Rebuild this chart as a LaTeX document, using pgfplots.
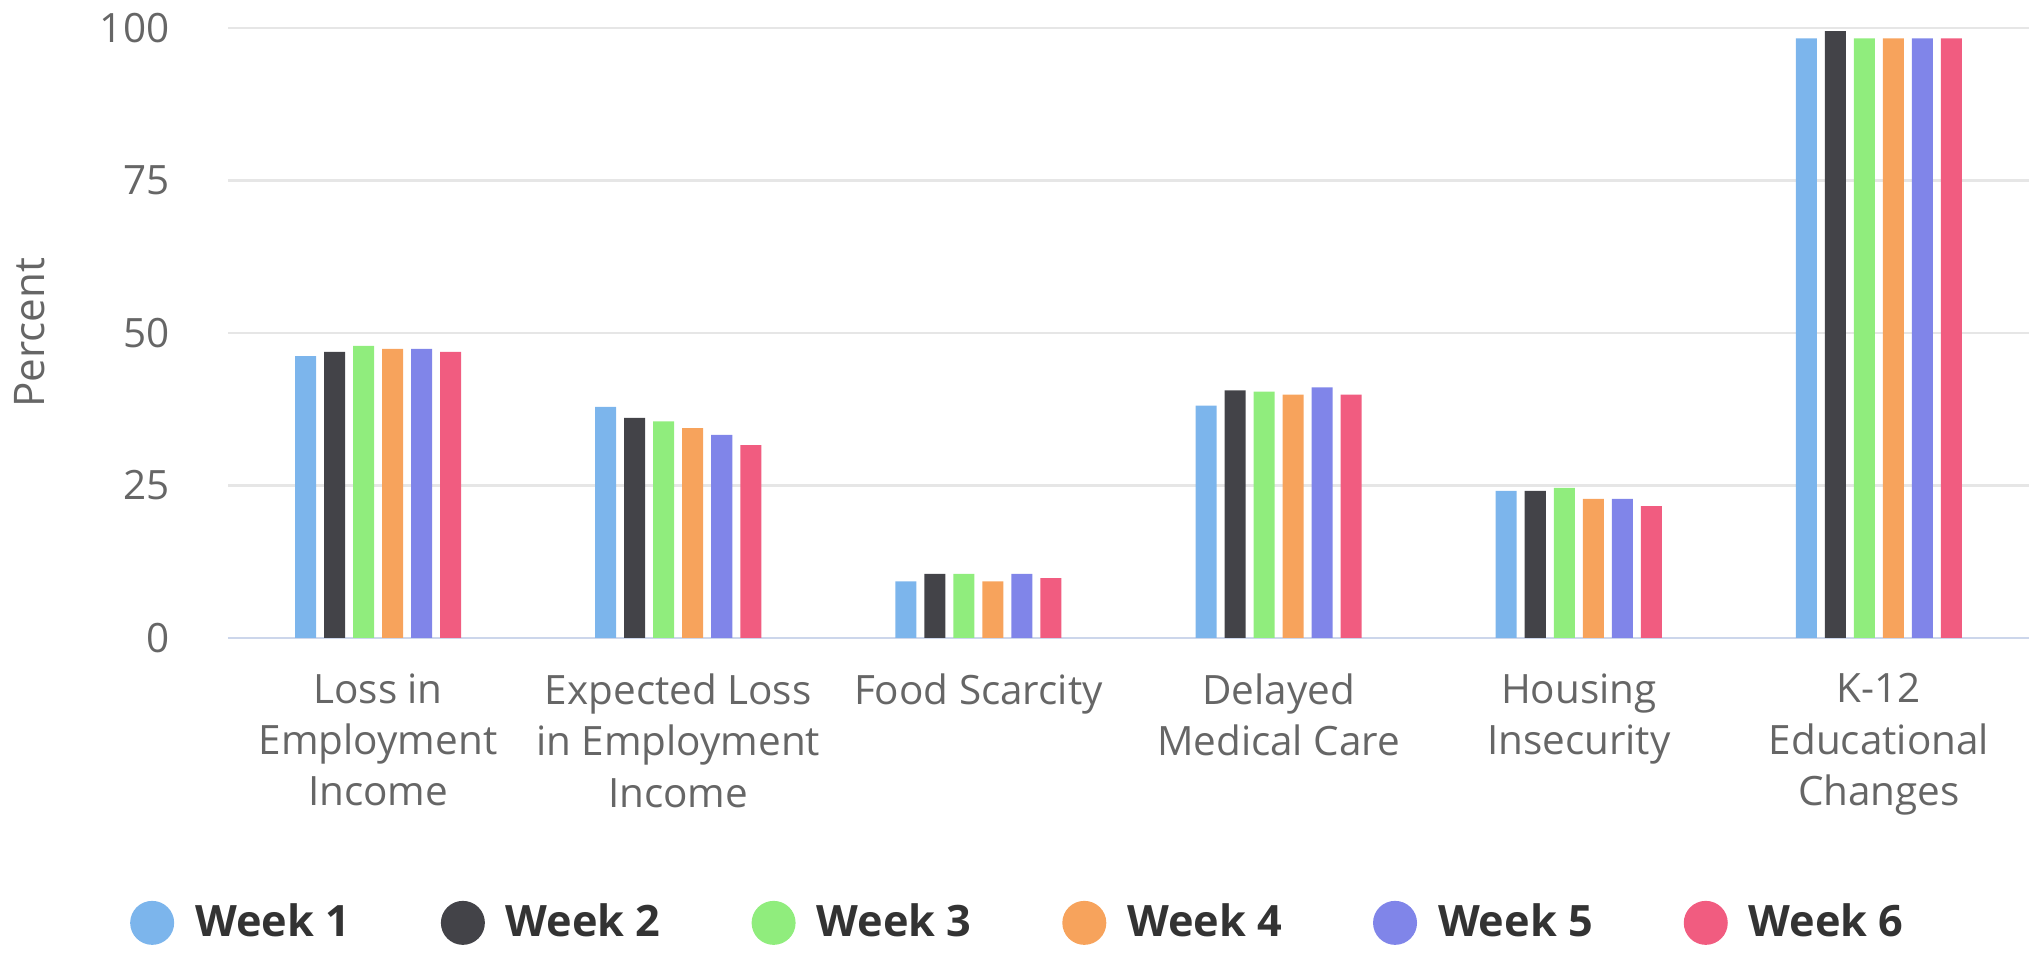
\documentclass[border=0pt]{standalone}
\usepackage{fontspec}
\setmainfont{Open Sans}
\usepackage{pgfplots}
\pgfplotsset{compat=1.18}
\definecolor{c1}{HTML}{7CB5EC}
\definecolor{c2}{HTML}{434348}
\definecolor{c3}{HTML}{90ED7D}
\definecolor{c4}{HTML}{F7A35C}
\definecolor{c5}{HTML}{8085E9}
\definecolor{c6}{HTML}{F15C80}
\definecolor{gridgray}{HTML}{E6E6E6}
\definecolor{axisblue}{HTML}{CCD6EB}
\definecolor{tickgray}{HTML}{666666}
\definecolor{textdark}{HTML}{333333}
\begin{document}
\begin{tikzpicture}
\path[use as bounding box] (-2.28cm,-3.15cm) rectangle (18.01cm,6.38cm);
\begin{axis}[
  scale only axis,
  width=18.01cm, height=6.10cm,
  ybar=0.08cm,
  bar width=0.21cm,
  legend image code/.code={\fill[#1] (0.22cm,0cm) circle (0.22cm);},
  xmin=-0.5, xmax=5.5,
  ymin=0, ymax=100,
  xtick=data,
  xticklabels={{Loss in\\Employment\\Income},{Expected Loss\\in Employment\\Income},{Food Scarcity},{Delayed\\Medical Care},{Housing\\Insecurity},{K-12\\Educational\\Changes}},
  ytick={25,50,75,100},
  extra y ticks={0},
  extra y tick labels={0},
  extra y tick style={grid style={color=axisblue, line width=0.8pt}},
  ymajorgrids,
  grid style={color=gridgray, line width=0.6pt},
  major tick length=0pt,
  axis line style={draw=none},
  /pgf/number format/assume math mode=true,
  xticklabel style={align=center, font=\fontsize{11.5}{14.6}\selectfont, text=tickgray, inner sep=0pt, yshift=-0.35cm},
  yticklabel style={font=\fontsize{11.5}{14.5}\selectfont, text=tickgray, inner sep=0pt, xshift=-0.58cm},
  ylabel={Percent},
  ylabel style={at={(axis description cs:-0.1099,0.5)}, anchor=center, font=\fontsize{12}{14}\selectfont, text=tickgray},
  legend columns=6,
  legend style={at={(0.438,-0.467)}, anchor=center, draw=none, fill=none,
    font=\bfseries\fontsize{12.3}{14}\selectfont, text=textdark,
    nodes={inner xsep=0pt},
    /tikz/every odd column/.style={column sep=0.21cm},
    /tikz/every even column/.style={column sep=0.91cm}},
]
\addplot[fill=c1, draw=none] coordinates {(0,46.2) (1,37.9) (2,9.3) (3,38.1) (4,24.1) (5,98.3)};
\addlegendentry{Week 1}
\addplot[fill=c2, draw=none] coordinates {(0,46.9) (1,36.1) (2,10.5) (3,40.6) (4,24.1) (5,99.5)};
\addlegendentry{Week 2}
\addplot[fill=c3, draw=none] coordinates {(0,47.9) (1,35.5) (2,10.5) (3,40.4) (4,24.6) (5,98.3)};
\addlegendentry{Week 3}
\addplot[fill=c4, draw=none] coordinates {(0,47.4) (1,34.4) (2,9.3) (3,39.9) (4,22.8) (5,98.3)};
\addlegendentry{Week 4}
\addplot[fill=c5, draw=none] coordinates {(0,47.4) (1,33.3) (2,10.5) (3,41.1) (4,22.8) (5,98.3)};
\addlegendentry{Week 5}
\addplot[fill=c6, draw=none] coordinates {(0,46.9) (1,31.6) (2,9.8) (3,39.9) (4,21.6) (5,98.3)};
\addlegendentry{Week 6}
\end{axis}
\end{tikzpicture}
\end{document}
